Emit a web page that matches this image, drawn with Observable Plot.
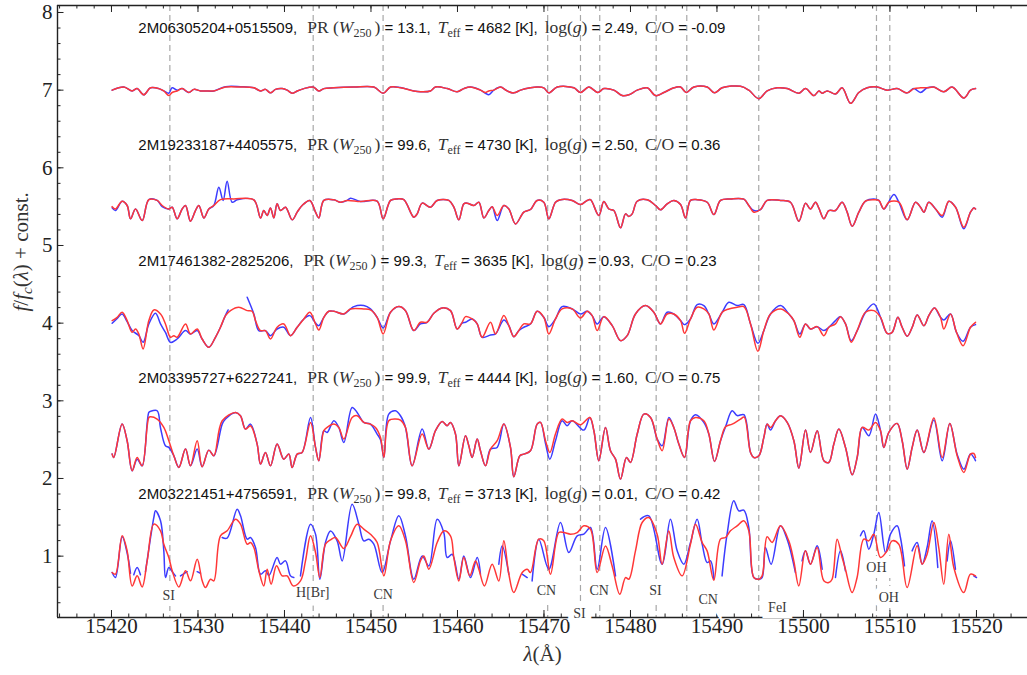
<!DOCTYPE html>
<html>
<head>
<meta charset="utf-8">
<script src="https://cdn.jsdelivr.net/npm/d3@7"></script>
<script src="https://cdn.jsdelivr.net/npm/@observablehq/plot@0.6"></script>
<style>
  body { margin: 0; background: #fff; }
  #chart svg { display: block; }
  #chart text { white-space: pre; }
</style>
</head>
<body>
<div id="chart"></div>
<script>
// ---- Axis extents and ticks ----
const xDomain = [15413.76, 15525.9];
const yDomain = [0.21, 8.09];
const xTickValues = [15420, 15430, 15440, 15450, 15460, 15470, 15480, 15490, 15500, 15510, 15520];
const xMinorTicks = d3.range(15414, 15527, 2);
const yTickValues = [1, 2, 3, 4, 5, 6, 7, 8];
const yMinorTicks = d3.range(0.4, 8.05, 0.2);

// ---- Line identifications (wavelength of the dashed marker, label text and label place) ----
const featureWave = [15426.75, 15443.32, 15451.40, 15470.43, 15474.22, 15476.45, 15482.97, 15486.51, 15494.83, 15508.44, 15509.98];
const labelText = ["SI", "H[Br]", "CN", "CN", "SI", "CN", "SI", "CN", "FeI", "OH", "OH"];
const labelWave = [15426.62, 15443.27, 15451.41, 15470.29, 15474.10, 15476.38, 15482.89, 15488.98, 15496.99, 15508.44, 15509.86];
const labelLevel = [0.493, 0.536, 0.502, 0.558, 0.265, 0.558, 0.558, 0.442, 0.343, 0.85, 0.471];

// ---- Star parameters ----
const starNames = ["2M06305204+0515509", "2M19233187+4405575", "2M17461382-2825206", "2M03395727+6227241", "2M03221451+4756591"];
const starPR = ["13.1", "99.6", "99.3", "99.9", "99.8"];
const starTeff = ["4682", "4730", "3635", "4444", "3713"];
const starLogg = ["2.49", "2.50", "0.93", "1.60", "0.01"];
const starCO = ["-0.09", "0.36", "0.23", "0.75", "0.42"];
const headerWave = 15423.1;
const headerLevel = [7.73, 6.23, 4.73, 3.23, 1.73];

// ---- Spectra: [wavelength (Å), f/fc + offset]; null marks masked pixels ----
const model1 = [[15420.08,7.00],[15421.43,7.04],[15422.39,6.99],[15422.97,7.02],[15423.74,6.94],[15424.51,7.03],[15425.47,7.02],[15426.05,6.99],[15426.63,6.93],[15427.01,6.97],[15427.59,6.99],[15428.17,7.02],[15428.94,6.97],[15429.52,7.01],[15430.29,6.99],[15430.87,6.99],[15431.83,6.99],[15433.18,7.04],[15434.91,7.04],[15436.46,7.03],[15437.23,6.99],[15437.80,7.01],[15438.38,6.965],[15438.96,7.01],[15439.73,7.02],[15440.31,7.00],[15440.89,6.96],[15441.47,6.99],[15442.24,7.02],[15443.32,7.04],[15443.97,6.99],[15444.55,7.02],[15445.70,7.03],[15448.02,7.04],[15450.33,7.04],[15451.41,6.96],[15452.26,7.04],[15453.41,7.03],[15454.95,6.99],[15455.72,6.98],[15456.88,6.99],[15457.46,7.04],[15458.81,7.02],[15459.96,6.98],[15460.73,7.02],[15461.50,7.04],[15462.66,7.00],[15463.24,6.97],[15463.62,6.99],[15464.20,7.00],[15464.97,7.04],[15465.74,6.99],[15466.51,6.965],[15467.29,7.00],[15468.44,7.03],[15469.21,7.04],[15469.98,7.03],[15470.56,6.965],[15471.53,7.04],[15473.45,7.03],[15474.22,6.97],[15475.19,7.04],[15476.23,6.97],[15476.92,7.02],[15478.08,7.00],[15479.04,6.93],[15479.81,6.94],[15480.78,7.00],[15481.93,7.03],[15482.90,6.93],[15483.86,6.97],[15485.01,7.03],[15485.79,7.04],[15486.44,6.97],[15487.33,7.04],[15488.87,7.04],[15489.72,6.965],[15490.60,7.03],[15492.72,7.05],[15493.68,7.00],[15494.84,6.89],[15495.80,6.99],[15496.96,7.03],[15498.12,7.02],[15499.47,6.96],[15500.24,7.02],[15501.20,6.93],[15501.78,6.99],[15502.16,6.96],[15502.74,6.99],[15503.70,6.95],[15504.47,7.03],[15505.44,6.83],[15506.40,6.97],[15507.37,7.03],[15508.52,7.04],[15509.68,7.00],[15510.83,7.02],[15511.99,6.965],[15512.76,7.02],[15513.53,7.03],[15514.30,7.03],[15515.07,7.04],[15516.23,6.98],[15517.19,7.04],[15518.54,6.90],[15519.31,7.00],[15519.89,7.02]];
const obs1 = [[15420.08,7.00],[15421.43,7.04],[15422.39,6.99],[15422.97,7.02],[15423.74,6.94],[15424.51,7.03],[15425.47,7.02],[15426.05,6.99],[15426.63,6.96],[15427.01,7.03],[15427.59,7.00],[15428.17,7.02],[15428.94,6.97],[15429.52,7.01],[15430.29,6.99],[15430.87,6.99],[15431.83,6.99],[15433.18,7.045],[15434.91,7.045],[15436.46,7.03],[15437.23,6.99],[15437.80,7.01],[15438.38,6.965],[15438.96,7.01],[15439.73,7.02],[15440.31,7.00],[15440.89,6.96],[15441.47,6.99],[15442.24,7.02],[15443.32,7.04],[15443.97,6.99],[15444.55,7.02],[15445.70,7.03],[15448.02,7.04],[15450.33,7.04],[15451.41,6.96],[15452.26,7.04],[15453.41,7.035],[15454.95,6.99],[15455.72,6.98],[15456.88,6.99],[15457.46,7.04],[15458.81,7.02],[15459.96,6.98],[15460.73,7.02],[15461.50,7.04],[15462.66,7.00],[15463.24,6.96],[15463.62,6.94],[15464.20,7.00],[15464.97,7.04],[15465.74,6.99],[15466.51,6.965],[15467.29,7.00],[15468.44,7.03],[15469.21,7.04],[15469.98,7.03],[15470.56,6.965],[15471.53,7.04],[15473.45,7.03],[15474.22,6.97],[15475.19,7.04],[15476.23,6.97],[15476.92,7.02],[15478.08,7.00],[15479.04,6.93],[15479.81,6.94],[15480.78,7.00],[15481.93,7.03],[15482.90,6.93],[15483.86,6.97],[15485.01,7.03],[15485.79,7.04],[15486.44,6.97],[15487.33,7.04],[15488.87,7.04],[15489.72,6.965],[15490.60,7.03],[15492.72,7.05],[15493.68,7.00],[15494.84,6.89],[15495.80,6.99],[15496.96,7.03],[15498.12,7.02],[15499.47,6.96],[15500.24,7.02],[15501.20,6.93],[15501.78,6.99],[15502.16,6.96],[15502.74,6.99],[15503.70,6.95],[15504.47,7.03],[15505.44,6.83],[15506.40,6.97],[15507.37,7.03],[15508.52,7.04],[15509.68,7.00],[15510.83,7.02],[15511.99,6.965],[15512.76,7.02],[15513.53,6.97],[15514.30,7.03],[15515.07,7.04],[15516.23,6.98],[15517.19,7.04],[15518.54,6.90],[15519.31,7.00],[15519.89,7.02]];

const model2 = [[15420.08,5.50],[15420.46,5.47],[15421.23,5.57],[15421.81,5.515],[15422.20,5.343],[15422.78,5.47],[15423.55,5.321],[15424.32,5.59],[15425.28,5.58],[15425.86,5.515],[15426.63,5.47],[15427.02,5.493],[15427.59,5.343],[15428.17,5.47],[15428.56,5.515],[15429.13,5.313],[15429.71,5.45],[15430.10,5.515],[15430.68,5.355],[15431.25,5.47],[15431.83,5.515],[15432.60,5.59],[15434.14,5.60],[15436.46,5.588],[15437.23,5.355],[15437.61,5.45],[15438.00,5.386],[15438.38,5.484],[15438.77,5.355],[15439.15,5.536],[15439.54,5.45],[15440.12,5.493],[15440.89,5.33],[15441.47,5.429],[15442.04,5.515],[15442.93,5.58],[15443.59,5.429],[15443.97,5.355],[15444.55,5.58],[15445.71,5.588],[15446.48,5.557],[15447.25,5.58],[15448.79,5.566],[15450.71,5.57],[15451.41,5.343],[15452.26,5.58],[15453.03,5.60],[15453.80,5.59],[15454.95,5.364],[15455.34,5.407],[15455.92,5.545],[15456.88,5.493],[15457.65,5.58],[15459.00,5.58],[15459.58,5.493],[15460.16,5.33],[15460.73,5.536],[15461.12,5.545],[15461.89,5.515],[15462.47,5.557],[15463.05,5.355],[15463.62,5.45],[15464.01,5.50],[15464.59,5.386],[15465.36,5.515],[15465.94,5.47],[15466.71,5.278],[15467.67,5.429],[15468.44,5.463],[15469.21,5.58],[15469.98,5.557],[15470.56,5.343],[15471.33,5.557],[15471.91,5.59],[15473.26,5.58],[15474.22,5.527],[15474.99,5.58],[15475.38,5.59],[15476.34,5.386],[15476.92,5.566],[15477.50,5.47],[15478.08,5.45],[15478.85,5.227],[15479.43,5.407],[15479.81,5.373],[15480.20,5.407],[15480.78,5.57],[15481.93,5.588],[15482.90,5.515],[15483.47,5.459],[15484.24,5.536],[15485.01,5.58],[15485.79,5.527],[15486.36,5.355],[15486.94,5.58],[15487.71,5.59],[15488.87,5.557],[15489.64,5.398],[15490.41,5.58],[15491.57,5.60],[15493.11,5.596],[15493.68,5.515],[15494.26,5.429],[15495.03,5.463],[15495.80,5.58],[15497.35,5.58],[15498.50,5.557],[15499.47,5.313],[15500.24,5.545],[15500.81,5.47],[15501.39,5.557],[15501.78,5.48],[15502.36,5.343],[15502.93,5.45],[15503.70,5.45],[15504.47,5.557],[15505.05,5.429],[15505.63,5.248],[15506.40,5.429],[15507.17,5.57],[15508.14,5.588],[15508.71,5.58],[15509.29,5.47],[15509.87,5.557],[15511.03,5.557],[15511.99,5.33],[15512.95,5.557],[15513.53,5.493],[15513.92,5.429],[15514.49,5.557],[15515.27,5.47],[15516.04,5.386],[15516.81,5.57],[15517.58,5.493],[15518.54,5.235],[15519.31,5.429],[15519.70,5.484],[15519.89,5.47]];
const obs2 = [[15420.08,5.484],[15420.46,5.45],[15421.23,5.57],[15421.81,5.515],[15422.20,5.343],[15422.78,5.47],[15423.55,5.321],[15424.32,5.59],[15425.28,5.58],[15425.86,5.50],[15426.63,5.47],[15427.02,5.493],[15427.59,5.343],[15428.17,5.47],[15428.56,5.515],[15429.13,5.313],[15429.71,5.45],[15430.10,5.515],[15430.68,5.355],[15431.25,5.47],[15431.83,5.515],[15432.41,5.75],[15432.91,5.58],[15433.37,5.828],[15433.95,5.557],[15434.53,5.588],[15436.46,5.588],[15437.23,5.355],[15437.61,5.45],[15438.00,5.386],[15438.38,5.484],[15438.77,5.355],[15439.15,5.536],[15439.54,5.45],[15440.12,5.493],[15440.89,5.33],[15441.47,5.429],[15442.04,5.515],[15442.93,5.58],[15443.59,5.429],[15443.97,5.355],[15444.55,5.58],[15445.71,5.588],[15446.48,5.557],[15447.25,5.58],[15447.63,5.609],[15448.79,5.566],[15450.71,5.57],[15451.41,5.343],[15452.26,5.58],[15453.03,5.60],[15453.80,5.59],[15454.95,5.364],[15455.34,5.407],[15455.92,5.545],[15456.88,5.493],[15457.65,5.58],[15459.00,5.58],[15459.58,5.493],[15460.16,5.33],[15460.73,5.536],[15461.12,5.545],[15461.89,5.515],[15462.47,5.557],[15463.05,5.355],[15463.62,5.45],[15464.01,5.50],[15464.59,5.321],[15465.36,5.515],[15465.94,5.47],[15466.71,5.278],[15467.67,5.429],[15468.44,5.463],[15469.21,5.58],[15469.98,5.557],[15470.56,5.343],[15471.33,5.557],[15471.91,5.59],[15473.26,5.58],[15474.22,5.527],[15474.99,5.58],[15475.38,5.59],[15476.34,5.386],[15476.92,5.566],[15477.50,5.47],[15478.08,5.45],[15478.85,5.227],[15479.43,5.407],[15479.81,5.373],[15480.20,5.407],[15480.78,5.57],[15481.93,5.588],[15482.90,5.515],[15483.47,5.459],[15484.24,5.536],[15485.01,5.58],[15485.79,5.527],[15486.36,5.355],[15486.94,5.58],[15487.71,5.59],[15488.87,5.557],[15489.64,5.398],[15490.41,5.58],[15491.57,5.60],[15493.11,5.596],[15493.68,5.515],[15494.26,5.45],[15495.03,5.463],[15495.80,5.58],[15497.35,5.58],[15498.50,5.557],[15499.47,5.313],[15500.24,5.545],[15500.81,5.47],[15501.39,5.557],[15501.78,5.48],[15502.36,5.343],[15502.93,5.45],[15503.70,5.45],[15504.47,5.557],[15505.05,5.429],[15505.63,5.248],[15506.40,5.429],[15507.17,5.57],[15508.14,5.60],[15508.71,5.58],[15509.29,5.47],[15510.45,5.656],[15511.03,5.557],[15511.99,5.33],[15512.95,5.557],[15513.53,5.493],[15513.92,5.429],[15514.49,5.557],[15515.27,5.47],[15516.04,5.364],[15516.81,5.57],[15517.58,5.493],[15518.54,5.214],[15519.31,5.429],[15519.70,5.484],[15519.89,5.47]];

const model3 = [[15420.08,4.033],[15420.66,4.075],[15421.23,4.14],[15421.81,4.033],[15422.39,3.882],[15422.78,3.925],[15423.16,3.861],[15423.66,3.667],[15424.32,4.033],[15424.90,4.17],[15425.67,4.118],[15426.24,3.99],[15426.82,3.818],[15427.21,3.839],[15427.59,3.818],[15428.56,3.99],[15429.13,3.861],[15429.91,3.925],[15430.48,3.796],[15431.25,3.689],[15432.02,3.818],[15432.60,3.947],[15433.18,4.097],[15433.76,4.161],[15434.72,4.204],[15435.69,4.161],[15436.26,4.153],[15436.65,4.033],[15437.23,3.904],[15437.80,3.904],[15438.38,3.796],[15439.15,3.947],[15439.92,3.99],[15440.70,3.839],[15441.47,3.947],[15442.24,4.054],[15442.93,4.14],[15443.59,3.99],[15443.97,3.912],[15444.55,4.075],[15445.13,4.153],[15445.71,4.153],[15446.86,4.118],[15447.63,4.183],[15449.17,4.183],[15449.94,4.17],[15450.71,4.075],[15451.41,3.861],[15452.26,4.14],[15453.22,4.213],[15453.99,4.161],[15454.95,3.904],[15455.72,4.011],[15456.49,4.011],[15457.27,4.127],[15458.23,4.196],[15459.19,4.161],[15459.96,3.925],[15460.54,4.011],[15460.93,4.084],[15461.70,4.054],[15462.28,3.99],[15462.85,3.818],[15463.82,4.011],[15464.40,3.861],[15465.36,4.097],[15465.94,3.968],[15466.51,3.826],[15467.09,3.904],[15467.67,3.99],[15468.44,3.99],[15469.21,4.153],[15469.98,4.075],[15470.56,3.861],[15471.33,4.054],[15472.10,4.183],[15473.26,4.183],[15474.22,4.067],[15474.99,4.153],[15475.57,4.097],[15476.15,3.904],[15476.92,4.084],[15477.89,3.968],[15478.85,3.775],[15479.62,3.839],[15480.58,4.118],[15481.74,4.226],[15482.70,4.14],[15483.47,3.99],[15484.24,4.118],[15485.01,4.118],[15485.79,4.033],[15486.25,3.869],[15486.94,4.054],[15487.71,4.204],[15488.48,4.183],[15489.06,4.118],[15489.64,3.912],[15490.60,4.14],[15491.37,4.183],[15492.34,4.204],[15493.11,4.213],[15493.88,3.99],[15494.73,3.637],[15495.42,3.904],[15496.19,4.118],[15497.35,4.183],[15498.31,4.118],[15498.89,4.033],[15499.58,3.818],[15500.24,3.99],[15500.81,3.925],[15501.59,3.955],[15502.36,3.839],[15502.93,3.947],[15503.70,3.99],[15504.28,4.084],[15504.86,3.99],[15505.52,3.753],[15506.21,3.904],[15507.17,4.14],[15508.14,4.161],[15508.91,4.075],[15509.68,3.869],[15510.25,3.882],[15510.91,4.075],[15511.41,3.947],[15511.99,3.831],[15512.57,3.947],[15513.15,4.106],[15513.92,3.968],[15514.49,4.097],[15515.15,4.196],[15515.84,4.075],[15516.23,3.925],[15517.00,4.118],[15517.69,3.882],[15518.46,3.71],[15519.31,3.947],[15519.89,4.011]];
const obs3 = [[15420.08,3.998],[15420.66,4.06],[15421.23,4.118],[15421.81,4.02],[15422.39,3.904],[15423.16,3.84],[15423.66,3.753],[15424.32,3.99],[15425.09,4.127],[15425.67,3.99],[15426.24,3.88],[15426.82,3.753],[15427.59,3.796],[15428.56,3.904],[15429.13,3.861],[15429.91,3.904],[15430.48,3.796],[15431.25,3.689],[15432.02,3.818],[15432.60,3.947],[15433.18,4.10],[15433.49,4.17],[15433.6,null],[15435.69,4.333],[15436.46,4.118],[15437.03,3.904],[15437.80,3.904],[15438.38,3.839],[15439.15,3.925],[15439.92,3.947],[15440.70,3.839],[15441.47,3.947],[15442.24,4.054],[15442.93,4.097],[15443.59,4.0],[15443.97,3.968],[15444.55,4.075],[15445.13,4.153],[15445.71,4.153],[15446.86,4.118],[15447.63,4.183],[15448.02,4.213],[15449.17,4.226],[15449.94,4.183],[15450.71,4.075],[15451.41,3.938],[15452.26,4.14],[15453.22,4.213],[15453.99,4.161],[15454.95,3.904],[15455.72,3.99],[15456.49,4.011],[15457.27,4.127],[15458.23,4.196],[15459.19,4.161],[15459.96,3.925],[15460.54,4.0],[15460.93,4.011],[15461.70,4.054],[15462.28,3.99],[15462.85,3.818],[15463.82,3.848],[15464.40,3.861],[15465.36,4.041],[15465.94,3.968],[15466.51,3.826],[15467.09,3.904],[15467.67,3.947],[15468.44,3.99],[15469.21,4.153],[15469.98,4.075],[15470.56,3.955],[15471.33,4.054],[15472.10,4.213],[15473.26,4.183],[15474.22,4.118],[15474.99,4.153],[15475.57,4.097],[15476.15,3.99],[15476.92,4.084],[15477.89,3.968],[15478.85,3.775],[15479.62,3.839],[15480.58,4.118],[15481.74,4.226],[15482.70,4.14],[15483.47,3.99],[15484.24,4.14],[15485.01,4.118],[15485.79,4.033],[15486.25,3.981],[15486.94,4.054],[15487.71,4.239],[15488.48,4.226],[15489.06,4.118],[15489.64,3.99],[15490.60,4.14],[15491.37,4.269],[15492.34,4.226],[15493.11,4.239],[15493.88,3.99],[15494.73,3.74],[15495.42,3.904],[15496.19,4.118],[15497.35,4.226],[15498.31,4.118],[15498.89,4.033],[15499.58,3.861],[15500.24,3.99],[15500.81,3.925],[15501.59,3.955],[15502.36,3.904],[15502.93,3.947],[15503.70,4.033],[15504.28,4.084],[15504.86,3.99],[15505.52,3.775],[15506.21,3.904],[15507.17,4.14],[15508.14,4.248],[15508.91,4.075],[15509.68,3.869],[15510.25,3.882],[15510.91,4.075],[15511.41,3.947],[15511.99,3.831],[15512.57,3.947],[15513.15,4.106],[15513.92,3.968],[15514.49,4.097],[15515.15,4.196],[15515.84,4.075],[15516.23,4.041],[15517.00,4.118],[15517.69,3.882],[15518.46,3.766],[15519.31,3.947],[15519.89,3.981]];

const model4 = [[15420.08,2.314],[15420.27,2.271],[15421.23,2.70],[15421.81,2.486],[15422.39,2.099],[15422.97,2.271],[15423.55,2.163],[15424.32,2.786],[15424.51,2.795],[15425.28,2.765],[15426.05,2.657],[15426.63,2.486],[15427.21,2.292],[15427.79,2.142],[15428.56,2.378],[15429.13,2.163],[15429.91,2.486],[15430.48,2.151],[15431.25,2.365],[15431.83,2.292],[15432.80,2.743],[15434.34,2.851],[15434.91,2.808],[15435.49,2.636],[15436.07,2.68],[15436.84,2.443],[15437.23,2.185],[15437.80,2.335],[15438.38,2.163],[15439.15,2.443],[15439.92,2.249],[15440.50,2.314],[15440.89,2.142],[15441.47,2.314],[15442.04,2.335],[15443.01,2.722],[15443.59,2.40],[15443.97,2.228],[15444.55,2.615],[15444.93,2.657],[15445.71,2.70],[15446.28,2.657],[15446.86,2.507],[15447.82,2.786],[15448.40,2.808],[15449.17,2.722],[15449.94,2.70],[15450.52,2.657],[15451.10,2.529],[15451.49,2.271],[15452.06,2.743],[15452.83,2.765],[15453.41,2.75],[15453.99,2.657],[15454.76,2.163],[15455.92,2.572],[15456.69,2.378],[15457.46,2.615],[15458.23,2.735],[15458.81,2.679],[15459.19,2.722],[15459.77,2.572],[15460.16,2.163],[15460.93,2.55],[15461.31,2.421],[15461.70,2.271],[15462.28,2.507],[15462.66,2.357],[15463.24,2.163],[15463.82,2.378],[15464.59,2.486],[15465.36,2.70],[15466.13,2.40],[15466.51,2.022],[15467.21,2.292],[15467.67,2.314],[15468.44,2.357],[15469.21,2.70],[15469.60,2.722],[15470.18,2.486],[15470.68,2.335],[15471.33,2.572],[15472.10,2.765],[15472.68,2.722],[15473.26,2.743],[15474.22,2.692],[15475.30,2.786],[15475.77,2.615],[15476.34,2.228],[15477.11,2.657],[15477.69,2.357],[15478.27,2.249],[15478.85,1.992],[15479.54,2.271],[15480.00,2.206],[15480.78,2.572],[15481.55,2.829],[15482.32,2.786],[15483.09,2.507],[15483.67,2.357],[15484.44,2.765],[15485.01,2.657],[15485.59,2.443],[15486.25,2.271],[15486.94,2.743],[15487.52,2.786],[15488.48,2.743],[15489.06,2.572],[15489.72,2.219],[15490.41,2.486],[15490.99,2.666],[15491.76,2.70],[15492.72,2.765],[15493.15,2.79],[15493.88,2.335],[15494.26,2.271],[15494.84,2.292],[15495.42,2.529],[15495.80,2.70],[15496.19,2.657],[15496.77,2.743],[15497.35,2.808],[15498.12,2.722],[15498.89,2.486],[15499.47,2.133],[15500.24,2.623],[15500.81,2.335],[15501.59,2.615],[15502.36,2.228],[15502.93,2.206],[15503.51,2.443],[15504.09,2.636],[15504.86,2.40],[15505.63,2.047],[15506.21,2.271],[15506.79,2.657],[15507.56,2.623],[15508.33,2.722],[15508.91,2.615],[15509.29,2.40],[15509.87,2.593],[15510.83,2.709],[15511.41,2.486],[15511.99,2.12],[15512.57,2.40],[15513.15,2.623],[15513.92,2.335],[15515.07,2.778],[15516.04,2.271],[15516.92,2.709],[15517.77,2.292],[15518.54,2.078],[15519.31,2.314],[15519.70,2.322],[15519.89,2.271]];
const obs4 = [[15420.08,2.314],[15420.27,2.271],[15421.23,2.70],[15421.81,2.486],[15422.39,2.099],[15422.97,2.249],[15423.55,2.163],[15424.32,2.85],[15424.51,2.864],[15425.28,2.872],[15425.67,2.65],[15426.24,2.421],[15426.63,2.40],[15427.21,2.292],[15427.79,2.142],[15428.56,2.378],[15429.13,2.163],[15429.91,2.378],[15430.48,2.151],[15431.25,2.365],[15431.83,2.292],[15432.80,2.70],[15433.18,2.765],[15434.34,2.851],[15434.91,2.808],[15435.49,2.636],[15436.07,2.70],[15436.84,2.443],[15437.23,2.185],[15437.80,2.335],[15438.38,2.163],[15439.15,2.443],[15439.92,2.249],[15440.50,2.314],[15440.89,2.142],[15441.47,2.314],[15442.04,2.335],[15443.01,2.786],[15443.59,2.40],[15443.97,2.228],[15444.55,2.615],[15444.93,2.593],[15445.71,2.743],[15446.28,2.657],[15446.86,2.464],[15447.82,2.915],[15448.40,2.85],[15449.17,2.722],[15449.94,2.70],[15450.71,2.572],[15451.10,2.50],[15451.49,2.271],[15452.06,2.829],[15452.83,2.872],[15453.41,2.808],[15453.99,2.657],[15454.76,2.163],[15455.92,2.636],[15456.69,2.378],[15457.46,2.615],[15458.23,2.735],[15458.81,2.679],[15459.19,2.722],[15459.77,2.572],[15460.16,2.163],[15460.93,2.55],[15461.31,2.421],[15461.70,2.271],[15462.28,2.507],[15462.66,2.357],[15463.24,2.163],[15463.82,2.378],[15464.59,2.40],[15465.36,2.70],[15466.13,2.40],[15466.51,2.022],[15467.21,2.292],[15467.67,2.314],[15468.44,2.357],[15469.21,2.70],[15469.60,2.722],[15470.18,2.45],[15470.68,2.249],[15471.33,2.486],[15472.10,2.743],[15472.68,2.679],[15473.26,2.743],[15474.61,2.623],[15475.30,2.786],[15475.77,2.615],[15476.34,2.228],[15477.11,2.657],[15477.69,2.357],[15478.27,2.249],[15478.85,1.992],[15479.54,2.271],[15480.00,2.206],[15480.78,2.572],[15481.55,2.829],[15482.32,2.786],[15483.09,2.507],[15483.67,2.421],[15484.44,2.786],[15485.01,2.657],[15485.59,2.443],[15486.25,2.271],[15486.94,2.743],[15487.52,2.821],[15488.48,2.722],[15489.06,2.572],[15489.72,2.219],[15490.41,2.486],[15490.99,2.666],[15491.76,2.872],[15492.34,2.81],[15493.11,2.821],[15493.88,2.335],[15494.26,2.271],[15494.84,2.292],[15495.42,2.529],[15495.80,2.70],[15496.19,2.623],[15496.77,2.743],[15497.35,2.808],[15498.12,2.722],[15498.89,2.486],[15499.47,2.133],[15500.24,2.623],[15500.81,2.335],[15501.59,2.615],[15502.36,2.228],[15502.93,2.206],[15503.51,2.443],[15504.09,2.636],[15504.86,2.40],[15505.63,2.047],[15506.21,2.271],[15506.79,2.657],[15507.56,2.55],[15508.33,2.829],[15508.91,2.615],[15509.29,2.40],[15509.87,2.593],[15510.83,2.709],[15511.41,2.486],[15511.99,2.12],[15512.57,2.40],[15513.15,2.623],[15513.92,2.335],[15515.07,2.752],[15516.04,2.228],[15516.92,2.709],[15517.77,2.31],[15518.54,2.12],[15519.31,2.314],[15519.70,2.27],[15519.89,2.228]];

const model5 = [[15420.08,0.789],[15420.46,0.768],[15421.24,1.262],[15421.81,1.068],[15422.39,0.617],[15422.97,0.746],[15423.55,0.604],[15424.13,0.939],[15424.90,1.412],[15425.67,1.326],[15426.05,1.154],[15426.63,0.982],[15427.02,0.811],[15427.79,0.604],[15428.56,0.811],[15429.14,0.682],[15429.91,0.961],[15430.49,0.682],[15430.87,0.596],[15431.45,0.703],[15431.83,0.682],[15432.60,1.262],[15433.37,1.326],[15434.34,1.476],[15434.92,1.412],[15435.69,1.154],[15436.07,1.176],[15436.46,1.111],[15437.04,0.811],[15437.61,0.617],[15438.00,0.832],[15438.46,0.639],[15439.08,0.875],[15439.73,0.746],[15440.31,0.746],[15441.00,0.617],[15441.85,0.682],[15442.43,0.939],[15443.01,1.262],[15443.59,1.047],[15444.09,0.725],[15444.74,1.154],[15445.32,1.21],[15445.90,1.24],[15446.86,1.10],[15447.63,1.25],[15448.40,1.411],[15449.17,1.347],[15449.94,1.283],[15450.72,1.175],[15451.49,0.746],[15452.26,1.197],[15453.22,1.39],[15453.99,1.197],[15454.95,0.66],[15455.72,0.939],[15456.11,1.003],[15456.69,0.832],[15457.65,1.175],[15458.42,1.325],[15459.19,1.261],[15459.58,0.982],[15460.16,0.681],[15460.73,0.982],[15461.43,0.746],[15462.08,0.939],[15462.47,0.832],[15463.12,0.617],[15464.01,0.896],[15464.78,0.681],[15465.36,1.197],[15465.94,0.767],[15466.51,0.531],[15467.48,0.789],[15468.06,0.832],[15468.44,0.789],[15469.40,1.218],[15469.98,1.197],[15470.75,0.767],[15471.72,1.304],[15472.30,1.304],[15473.07,1.283],[15473.84,1.304],[15474.61,1.39],[15475.38,1.347],[15476.15,0.789],[15477.11,1.132],[15477.88,0.874],[15478.77,0.509],[15479.43,0.724],[15479.81,0.703],[15480.58,1.068],[15481.35,1.433],[15482.12,1.497],[15483.08,1.283],[15483.66,0.896],[15484.43,1.325],[15485.01,0.982],[15485.97,0.746],[15486.94,1.154],[15487.52,1.411],[15488.29,1.175],[15488.86,1.068],[15489.63,0.69],[15490.40,1.219],[15490.98,1.24],[15491.56,1.326],[15492.33,1.39],[15493.10,1.455],[15493.68,1.326],[15494.26,0.725],[15494.83,0.703],[15495.22,0.746],[15495.80,1.249],[15496.38,1.176],[15497.34,1.39],[15498.30,1.197],[15498.88,0.939],[15499.46,0.617],[15500.23,1.068],[15500.81,0.897],[15501.58,1.111],[15502.35,0.682],[15502.93,0.66],[15503.31,0.703],[15503.89,1.219],[15504.47,0.982],[15504.85,0.832],[15505.62,0.531],[15506.20,0.725],[15506.97,1.219],[15507.55,1.197],[15508.13,1.283],[15508.90,0.982],[15509.67,1.068],[15510.25,1.197],[15511.02,1.154],[15511.98,0.596],[15513.14,1.133],[15513.72,0.897],[15514.29,1.025],[15515.07,1.433],[15515.64,1.111],[15516.22,0.639],[15516.80,1.283],[15517.38,0.854],[15518.53,0.531],[15519.30,0.768],[15519.88,0.746]];
const obs5 = [[15420.08,0.789],[15420.46,0.725],[15421.24,1.249],[15421.81,1.04],[15422.20,0.78],[15422.4,null],[15422.58,0.76],[15422.97,0.854],[15423.35,0.76],[15423.6,null],[15423.93,0.80],[15424.13,0.95],[15424.90,1.50],[15425.09,1.584],[15425.67,1.455],[15426.05,1.068],[15426.25,0.725],[15426.63,0.854],[15427.02,0.80],[15427.40,0.746],[15427.7,null],[15427.98,0.746],[15428.56,0.789],[15428.75,0.80],[15429.0,null],[15429.91,0.80],[15430.29,0.78],[15430.5,null],[15432.80,1.24],[15433.37,1.232],[15434.53,1.605],[15434.92,1.519],[15435.69,1.219],[15436.07,1.24],[15436.65,1.111],[15437.23,0.768],[15437.81,0.811],[15438.20,0.75],[15439.15,0.982],[15439.54,0.897],[15440.12,0.939],[15440.70,0.746],[15441.08,0.725],[15441.4,null],[15441.85,0.746],[15443.01,1.412],[15443.59,1.283],[15444.09,0.703],[15444.74,1.176],[15445.32,1.325],[15446.09,1.197],[15446.67,0.939],[15447.82,1.669],[15448.60,1.411],[15449.17,1.197],[15449.75,1.218],[15450.33,1.154],[15451.29,0.789],[15452.26,1.197],[15453.22,1.519],[15453.99,1.261],[15454.95,0.703],[15455.92,1.003],[15456.69,0.874],[15457.65,1.476],[15458.42,1.304],[15458.81,0.982],[15459.39,1.025],[15460.16,0.703],[15460.73,1.003],[15461.51,0.724],[15462.28,0.982],[15462.66,0.767],[15463.0,null],[15464.78,0.896],[15465.17,1.132],[15465.94,0.767],[15466.2,null],[15467.48,0.767],[15468.06,0.724],[15468.3,null],[15468.63,0.681],[15469.40,1.218],[15470.56,0.832],[15471.91,1.433],[15472.87,1.046],[15473.84,1.261],[15474.61,1.283],[15475.38,1.368],[15476.15,0.832],[15477.11,1.368],[15478.27,0.746],[15478.6,null],[15481.16,1.476],[15482.12,1.519],[15483.66,0.896],[15484.62,1.476],[15485.40,1.068],[15486.17,0.896],[15486.94,1.175],[15487.71,1.476],[15488.29,1.154],[15488.87,0.917],[15489.25,0.939],[15489.64,0.703],[15490.0,null],[15490.59,0.746],[15491.17,1.283],[15491.94,1.713],[15492.52,1.584],[15493.10,1.592],[15493.68,1.369],[15494.26,0.725],[15494.83,0.703],[15495.22,0.725],[15495.60,1.111],[15496.26,0.897],[15497.34,1.39],[15498.11,1.219],[15499.07,0.789],[15499.4,null],[15499.84,0.939],[15500.23,1.068],[15500.81,0.897],[15501.58,1.133],[15502.16,0.832],[15502.5,null],[15503.70,0.725],[15504.28,1.068],[15504.85,0.811],[15505.2,null],[15506.59,1.262],[15506.97,1.326],[15507.55,1.09],[15508.13,1.283],[15508.71,1.562],[15509.48,1.047],[15510.06,1.283],[15510.83,1.39],[15511.21,1.24],[15511.68,0.875],[15512.0,null],[15512.56,1.068],[15513.14,1.176],[15513.72,0.897],[15514.29,1.111],[15514.87,1.455],[15515.53,0.854],[15515.9,null],[15516.61,0.939],[15517.00,1.197],[15517.57,0.832],[15518.0,null],[15519.69,0.746],[15520.00,0.725]];

const observed = [obs1, obs2, obs3, obs4, obs5];
const models = [model1, model2, model3, model4, model5];

// ---- Styling ----
const serif = "'Liberation Serif', 'DejaVu Serif', serif";
const sans = "'Liberation Sans', Arial, sans-serif";
const obsColor = "rgb(60,60,255)";
const modelColor = "rgb(255,55,55)";
const axisColor = "#222";

const specLine = (rows, color) => Plot.line(rows, {
  x: d => d[0], y: d => d[1], stroke: color, strokeWidth: 1.5, curve: "catmull-rom"
});

const chart = Plot.plot({
  width: 1027,
  height: 675,
  marginLeft: 57,
  marginRight: 0,
  marginTop: 5,
  marginBottom: 58,
  x: {domain: xDomain, axis: null},
  y: {domain: yDomain, axis: null},
  style: {"font-family": serif, color: axisColor, background: "#fff", overflow: "visible"},
  marks: [
    // identified lines
    Plot.ruleX(featureWave, {x: d => d, stroke: "#a8a8a8", strokeWidth: 1.2, strokeDasharray: "6,4"}),
    // frame spines
    Plot.ruleY([yDomain[0]], {y: d => d, stroke: axisColor, strokeWidth: 1.4}),
    Plot.ruleY([yDomain[1]], {y: d => d, stroke: axisColor, strokeWidth: 1.4}),
    Plot.ruleX([xDomain[0]], {x: d => d, stroke: axisColor, strokeWidth: 1.4}),
    // inward ticks on bottom, top and left
    Plot.ruleX(xMinorTicks, {x: d => d, y1: yDomain[0], y2: yDomain[0], insetBottom: 3.5, stroke: axisColor}),
    Plot.ruleX(xTickValues, {x: d => d, y1: yDomain[0], y2: yDomain[0], insetBottom: 7, stroke: axisColor}),
    Plot.ruleX(xMinorTicks, {x: d => d, y1: yDomain[1], y2: yDomain[1], insetTop: 3.5, stroke: axisColor}),
    Plot.ruleX(xTickValues, {x: d => d, y1: yDomain[1], y2: yDomain[1], insetTop: 7, stroke: axisColor}),
    Plot.ruleY(yMinorTicks, {y: d => d, x1: xDomain[0], x2: xDomain[0], insetLeft: 3.5, stroke: axisColor}),
    Plot.ruleY(yTickValues, {y: d => d, x1: xDomain[0], x2: xDomain[0], insetLeft: 6.5, stroke: axisColor}),
    // tick labels in the serif face
    Plot.text(xTickValues, {x: d => d, frameAnchor: "bottom", dy: 15, text: d => String(d), fontSize: 21, fontFamily: serif, fill: axisColor}),
    Plot.text(yTickValues, {y: d => d, frameAnchor: "left", dx: -5, textAnchor: "end", text: d => String(d), fontSize: 21, fontFamily: serif, fill: axisColor}),
    // line identification labels on a white ground
    Plot.text(labelText, {
      x: labelWave, y: labelLevel, text: d => d, fontSize: 14, fontFamily: serif, fill: "#3a3a3a",
      stroke: "#fff", strokeWidth: 12, strokeLinejoin: "miter", paintOrder: "stroke", lineAnchor: "middle"
    }),
    // observed spectra below, models on top
    ...observed.map(rows => specLine(rows, obsColor)),
    ...models.map(rows => specLine(rows, modelColor)),
    // star headers (rich text filled in below)
    Plot.text(starNames, {
      x: starNames.map(() => headerWave), y: headerLevel, text: d => d,
      textAnchor: "start", lineAnchor: "bottom", fontSize: 15, ariaDescription: "header"
    }),
    // axis titles
    Plot.text(["λ(Å)"], {frameAnchor: "bottom", dy: 43, fontSize: 21, ariaDescription: "xlabel"}),
    Plot.text(["f/fc(λ) + const."], {frameAnchor: "left", rotate: -90, dx: -36, fontSize: 21, ariaDescription: "ylabel"})
  ]
});

document.getElementById("chart").appendChild(chart);
chart.setAttribute("font-family", serif);

// ---- Mixed-font text: sans for values, serif/italic for math symbols ----
function fillRich(node, parts, mainSize, subSize) {
  node.textContent = "";
  let shift = 0;
  for (const [kind, str, gap] of parts) {
    const t = document.createElementNS("http://www.w3.org/2000/svg", "tspan");
    t.textContent = str;
    const isSub = kind.endsWith("sub");
    const target = isSub ? 4 : 0;
    if (target !== shift) { t.setAttribute("dy", target - shift); shift = target; }
    if (gap) t.setAttribute("dx", gap);
    if (kind.startsWith("sans")) {
      t.setAttribute("font-family", sans);
      t.setAttribute("font-size", 15);
      t.setAttribute("fill", "#111");
    } else {
      t.setAttribute("font-family", serif);
      t.setAttribute("font-size", isSub ? subSize : mainSize);
      t.setAttribute("fill", "#333");
      if (kind.startsWith("it")) t.setAttribute("font-style", "italic");
    }
    node.appendChild(t);
  }
}

const pick = name => chart.querySelectorAll(`g[aria-description="${name}"] text, text[aria-description="${name}"]`);

pick("header").forEach((node, i) => {
  fillRich(node, [
    ["sans", starNames[i] + ","],
    ["rm", "PR", 10], ["rm", " ("], ["it", "W"], ["rmsub", "250"], ["rm", ")", 3],
    ["sans", " = " + starPR[i] + ","],
    ["it", "T", 7], ["rmsub", "eff"],
    ["sans", " = " + starTeff[i] + " [K],"],
    ["rm", "log(", 7], ["it", "g"], ["rm", ")"],
    ["sans", " = " + starLogg[i] + ","],
    ["rm", "C/O", 7],
    ["sans", " = " + starCO[i]]
  ], 17.5, 12);
});

pick("xlabel").forEach(node => fillRich(node, [["it", "λ"], ["rm", "(Å)"]], 21, 15));

pick("ylabel").forEach(node => fillRich(node, [["it", "f"], ["rm", "/"], ["it", "f"], ["itsub", "c"], ["rm", "("], ["it", "λ"], ["rm", ") + const."]], 21, 15));
</script>
</body>
</html>
